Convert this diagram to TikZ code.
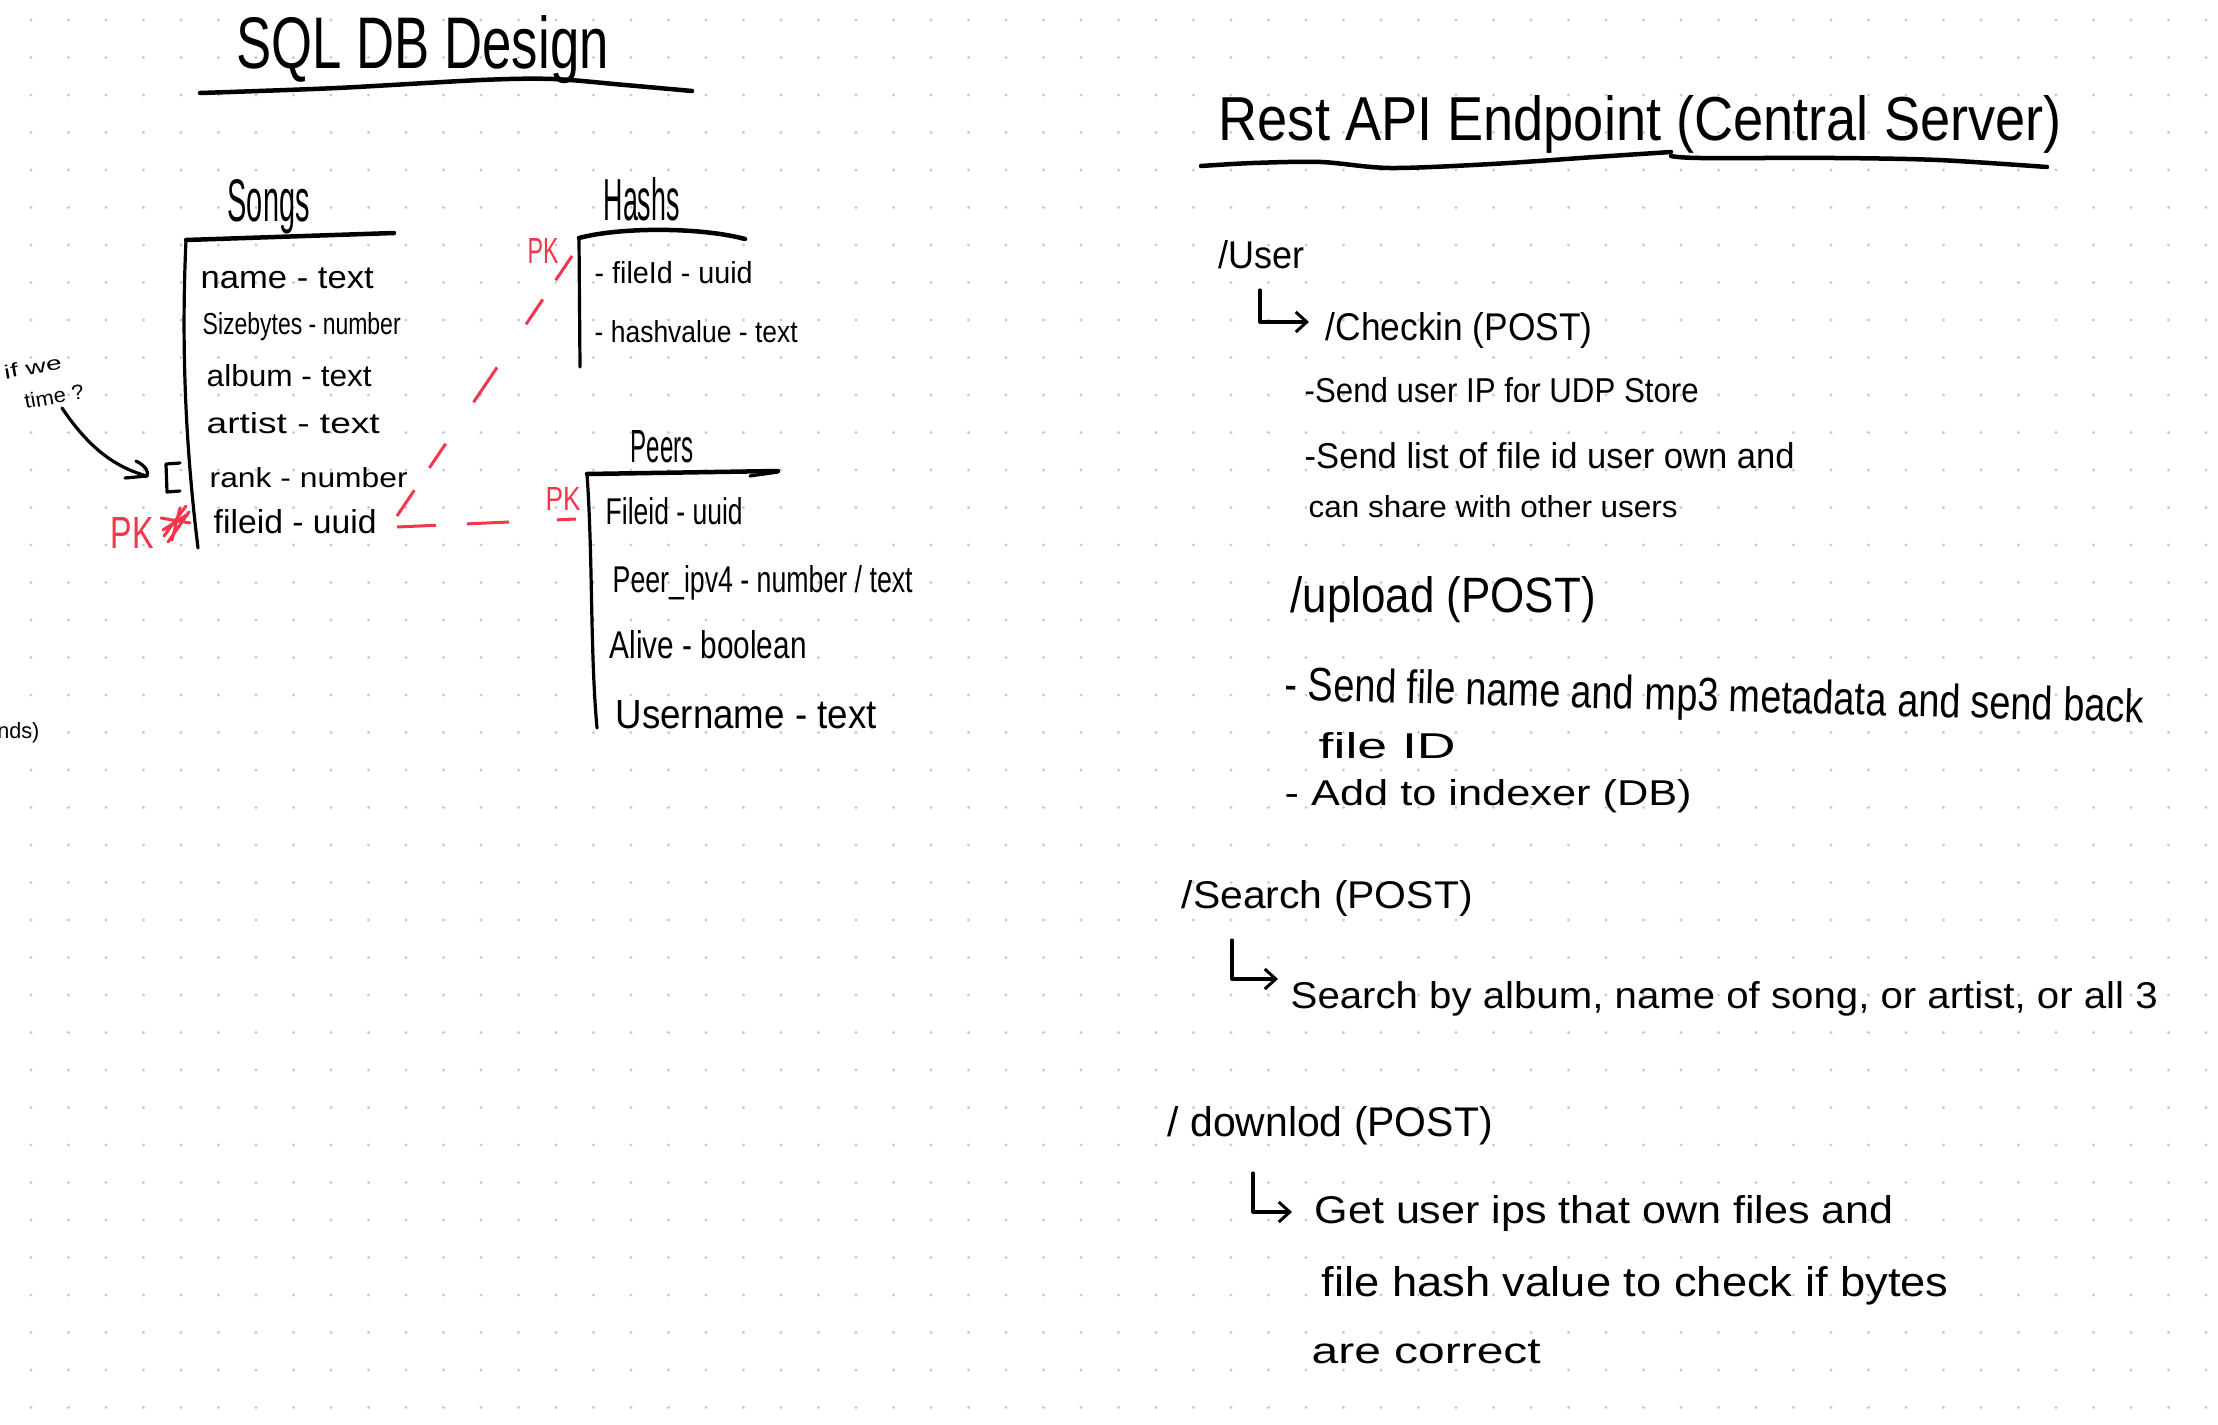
\documentclass[tikz,border=0pt]{standalone}
\usepackage{graphicx}
\usepackage{fontspec}
\setmainfont{Liberation Sans}
\usetikzlibrary{arrows.meta}
\definecolor{pkred}{HTML}{F5364A}
\definecolor{dotc}{HTML}{C9C9C9}
\newdimen\hwu \hwu=0.01cm
\newcommand\hw[3]{\resizebox{#1\hwu}{#2\hwu}{\vphantom{A}#3}}
\begin{document}
\begin{tikzpicture}[x=0.01cm,y=-0.01cm,
  txt/.style={inner sep=0pt,anchor=base west},
  redtxt/.style={txt,text=pkred},
  pen/.style={line width=0.032cm,line cap=round,line join=round,black},
  thickpen/.style={line width=0.045cm,line cap=round,line join=round,black},
  redpen/.style={line width=0.03cm,line cap=round,pkred},
  reddash/.style={line width=0.03cm,pkred},
  barb/.style={-{Straight Barb[length=0.11cm,width=0.2cm,line width=0.03cm]}}]
\useasboundingbox (0,0) rectangle (2218,1424);
\clip (0,0) rectangle (2218,1424);
\fill[white] (0,0) rectangle (2218,1424);
% dot grid
\foreach \i in {0,...,58}{
  \foreach \j in {0,...,37}{
    \fill[dotc] ({31+37.5*\i},{20+37.5*\j}) circle[radius=0.017cm];
  }
}
% ---------- SQL DB Design ----------
\node[txt] (title) at (236,68) {\hw{372}{53}{SQL DB Design}};
\draw[thickpen] plot[smooth] coordinates {(200,93) (337,88) (481,80) (553,79) (625,85) (692,91)};

% Songs table
\node[txt] (songsT) at (227,221) {\hw{82}{42}{Songs}};
\coordinate (songsTL) at (186,240);
\draw[thickpen] (songsTL) -- (394,233);
\draw[pen] (songsTL) .. controls (181,350) and (186,450) .. (198,548);
\node[txt] (s1) at (200,288) {\hw{173}{22}{name - text}};
\node[txt] (s2) at (202,334) {\hw{198}{22}{Sizebytes - number}};
\node[txt] (s3) at (206,386) {\hw{165}{22}{album - text}};
\node[txt] (s4) at (206,433) {\hw{173}{21}{artist - text}};
\node[txt] (s5) at (209,487) {\hw{198}{20}{rank - number}};
\node[txt] (s6) at (213,533) {\hw{163}{24}{fileid - uuid}};
% bracket, note and arrow
\draw[pen] (180,463) -- (166,464) -- (167,492) -- (180,491);
\node[inner sep=0pt,rotate=10,align=left,font=\fontsize{5pt}{9.4pt}\selectfont] (note) at (44,382)
  {\hw{58}{14}{if we}\\\hspace*{15\hwu}\hw{60}{15}{time ?}};
\coordinate (noteEnd) at (147,476);
\draw[pen] (62,408) .. controls (85,442) and (110,466) .. (noteEnd);
\draw[pen] (136,461) .. controls (146,466) and (149,472) .. (noteEnd) -- (125,478);
% PK for songs
\node[redtxt] (pk1) at (110,548) {\hw{43}{31}{PK}};
\draw[redpen] (164,536) -- (186,506);
\draw[redpen] (168,542) -- (189,512);
\draw[redpen] (161,518) -- (190,523);
\draw[redpen] (163,530) -- (188,514);
\draw[redpen] (172,540) -- (180,508);

% Hashs table
\node[txt] (hashT) at (603,220) {\hw{76}{43}{Hashs}};
\coordinate (hashTL) at (579,238);
\draw[thickpen] (hashTL) .. controls (620,227) and (700,227) .. (745,239);
\draw[pen] (hashTL) -- (580,367);
\node[txt] (h1) at (594,283) {\hw{158}{22}{- fileId - uuid}};
\node[txt] (h2) at (594,342) {\hw{203}{22}{- hashvalue - text}};
\node[redtxt] (pk2) at (527,263) {\hw{31}{25}{PK}};

% Peers table
\node[txt] (peersT) at (630,462) {\hw{63}{32}{Peers}};
\coordinate (peersTL) at (587,474);
\draw[thickpen] (peersTL) -- (778,471);
\draw[pen] (750,476) -- (778,472);
\draw[pen] (peersTL) .. controls (593,560) and (590,650) .. (597,728);
\node[txt] (p1) at (605,524) {\hw{137}{27}{Fileid - uuid}};
\node[txt] (p2) at (612,592) {\hw{300}{27}{Peer\_ipv4 - number / text}};
\node[txt] (p3) at (609,658) {\hw{197}{28}{Alive - boolean}};
\node[txt] (p4) at (615,728) {\hw{261}{28}{Username - text}};
\node[redtxt] (pk3) at (545,510) {\hw{35}{23}{PK}};

% foreign key links (red dashed)
\coordinate (fkA) at (397,516);
\coordinate (fkB) at (572,256);
\coordinate (fkC) at (397,527);
\coordinate (fkD) at (576,519);
\draw[reddash,dash pattern=on 0.31cm off 0.27cm on 0.29cm off 0.50cm on 0.42cm off 0.52cm on 0.30cm off 0.23cm on 0.30cm off 1cm] (fkA) -- (fkB);
\draw[reddash,dash pattern=on 0.39cm off 0.31cm on 0.42cm off 0.48cm on 0.20cm off 1cm] (fkC) -- (fkD);

% cut-off text at left edge
\node[inner sep=0pt,anchor=base east] (nds) at (40,738) {\hw{42}{16}{nds)}};

% ---------- Rest API ----------
\node[txt] (rtitle) at (1218,140) {\hw{843}{45}{Rest API Endpoint (Central Server)}};
\draw[thickpen] plot[smooth] coordinates {(1201,166) (1253,163) (1321,162) (1390,168) (1492,164) (1595,157) (1671,152)};
\draw[thickpen] plot[smooth] coordinates {(1671,156) (1700,158) (1835,158) (1938,160) (2047,167)};

\node[txt] (user) at (1218,268) {\hw{86}{28}{/User}};
\coordinate (userArr) at (1260,290);
\node[txt] (checkin) at (1325,340) {\hw{267}{28}{/Checkin (POST)}};
\draw[pen,barb] (userArr) |- (1309,322);
\node[txt] (c1) at (1304,402) {\hw{394}{25}{-Send user IP for UDP Store}};
\node[txt] (c2) at (1304,468) {\hw{490}{26}{-Send list of file id user own and}};
\node[txt] (c3) at (1308,517) {\hw{369}{22}{can share with other users}};

\node[txt] (upload) at (1290,612) {\hw{305}{36}{/upload (POST)}};
\node[txt,rotate=-1.5] (u1) at (1284,700) {\hw{859}{34}{- Send file name and mp3 metadata and send back}};
\node[txt] (u2) at (1318,758) {\hw{137}{26}{file ID}};
\node[txt] (u3) at (1284,805) {\hw{407}{26}{- Add to indexer (DB)}};

\node[txt] (search) at (1181,908) {\hw{291}{28}{/Search (POST)}};
\coordinate (searchArr) at (1232,940);
\draw[pen,barb] (searchArr) |- (1278,979);
\node[txt] (sr1) at (1290,1008) {\hw{867}{27}{Search by album, name of song, or artist, or all 3}};

\node[txt] (download) at (1167,1136) {\hw{325}{30}{/ downlod (POST)}};
\coordinate (dlArr) at (1253,1173);
\draw[pen,barb] (dlArr) |- (1292,1212);
\node[txt] (d1) at (1314,1223) {\hw{579}{28}{Get user ips that own files and}};
\node[txt] (d2) at (1321,1296) {\hw{627}{30}{file hash value to check if bytes}};
\node[txt] (d3) at (1311,1363) {\hw{229}{25}{are correct}};
\end{tikzpicture}
\end{document}
